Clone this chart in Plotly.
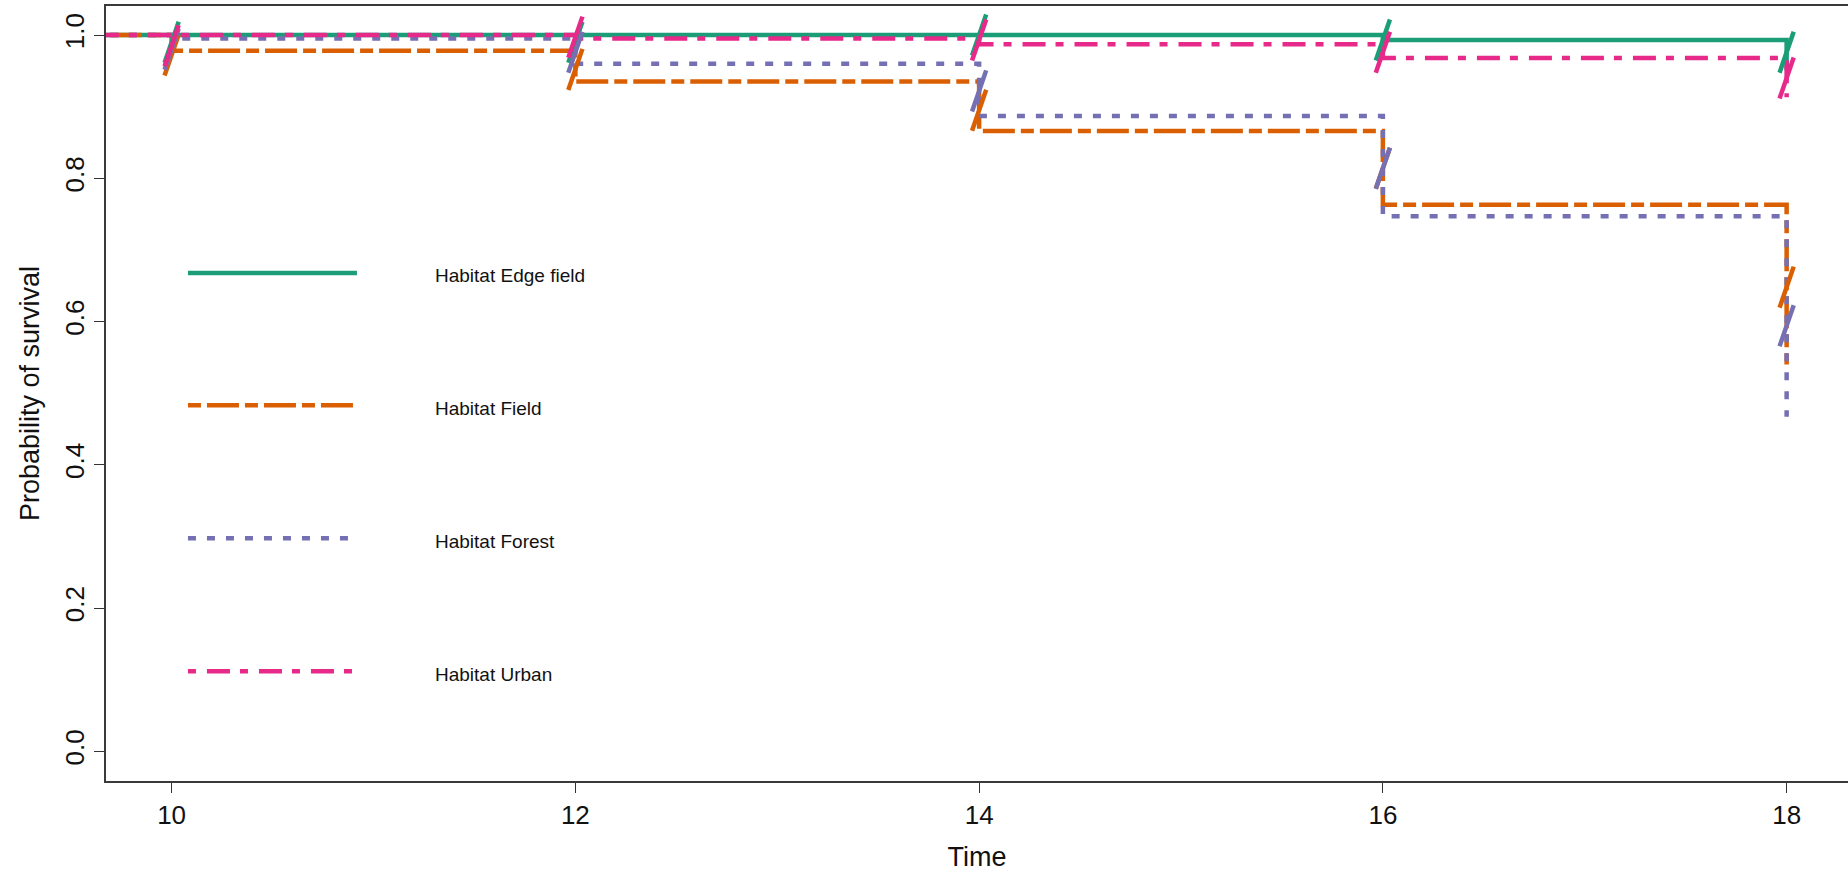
import plotly.graph_objects as go

# ---- data ----
habitats = ["Habitat Edge field", "Habitat Field", "Habitat Forest", "Habitat Urban"]
times = [0, 10, 12, 14, 16, 18]
surv_edge = [1.0, 1.0, 1.0, 1.0, 0.993, 0.951]
surv_field = [1.0, 0.978, 0.935, 0.866, 0.763, 0.54]
surv_forest = [1.0, 0.995, 0.960, 0.887, 0.747, 0.467]
surv_urban = [1.0, 1.0, 0.995, 0.987, 0.968, 0.913]

censor_times = [10, 12, 14, 16, 18]
censor_edge = [0.99, 0.99, 1.0, 0.993, 0.976]
censor_field = [0.972, 0.952, 0.895, 0.814, 0.648]
censor_forest = [0.98, 0.976, 0.922, 0.814, 0.594]
censor_urban = [0.985, 0.997, 0.993, 0.976, 0.94]

x_ticks = [10, 12, 14, 16, 18]
y_ticks = [0.0, 0.2, 0.4, 0.6, 0.8, 1.0]
y_tick_labels = ["0.0", "0.2", "0.4", "0.6", "0.8", "1.0"]

# ---- styles ----
colors = ["#1B9E77", "#D95F02", "#7570B3", "#E7298A"]
dashes = ["solid", "13px,6px,32px,6px", "8px,11px", "8px,11px,23px,10px"]
surv_all = [surv_edge, surv_field, surv_forest, surv_urban]
cens_all = [censor_edge, censor_field, censor_forest, censor_urban]

FONT = "Liberation Sans, Arial, sans-serif"

fig = go.Figure()
for name, s, c, col, d in zip(habitats, surv_all, cens_all, colors, dashes):
    fig.add_trace(go.Scatter(
        x=times, y=s, mode="lines", line=dict(color=col, width=4.5, dash=d, shape="hv"),
        name=name, showlegend=False, hoverinfo="skip"))
for name, s, c, col, d in zip(habitats, surv_all, cens_all, colors, dashes):
    fig.add_trace(go.Scatter(
        x=censor_times, y=c, mode="markers",
        marker=dict(symbol="line-ns", size=31, angle=19, color=col,
                    line=dict(color=col, width=4.5)),
        showlegend=False, hoverinfo="skip", cliponaxis=False))

# ---- manual legend (as in base-R legend) ----
leg_x0, leg_x1, leg_tx = 10.081, 10.918, 11.293
leg_y = [0.6676, 0.483, 0.2975, 0.1117]
for name, col, d, yy in zip(habitats, colors, dashes, leg_y):
    fig.add_shape(type="line", xref="x", yref="y", x0=leg_x0, x1=leg_x1, y0=yy, y1=yy,
                  line=dict(color=col, width=4.5, dash=d))
    fig.add_annotation(x=leg_tx, y=yy - 0.004, xref="x", yref="y", text=name,
                       showarrow=False, xanchor="left", yanchor="middle",
                       font=dict(family=FONT, size=19, color="#111111"))

fig.update_layout(
    width=1848, height=874,
    margin=dict(l=106, r=0, t=6, b=93),
    paper_bgcolor="white", plot_bgcolor="white",
    font=dict(family=FONT, color="#111111"),
    xaxis=dict(range=[9.675, 18.304], tickvals=x_ticks, ticks="outside", ticklen=10,
               tickcolor="#333333", tickwidth=1.2, showline=True, linecolor="#3a3a3a",
               linewidth=1.5, mirror=True, showgrid=False, zeroline=False,
               tickfont=dict(size=26, family=FONT, color="#111111"),
               title=dict(text="Time", font=dict(size=27, family=FONT, color="#111111"), standoff=18)),
    yaxis=dict(range=[-0.0415, 1.0405], tickvals=y_ticks, ticktext=y_tick_labels,
               tickangle=-90, ticks="outside", ticklen=10, tickcolor="#333333", tickwidth=1.2,
               showline=True, linecolor="#3a3a3a", linewidth=1.5, mirror=False,
               showgrid=False, zeroline=False,
               tickfont=dict(size=26, family=FONT, color="#111111"),
               title=dict(text="Probability of survival", font=dict(size=27, family=FONT, color="#111111"), standoff=12)),
)

fig.write_html("out.html")
